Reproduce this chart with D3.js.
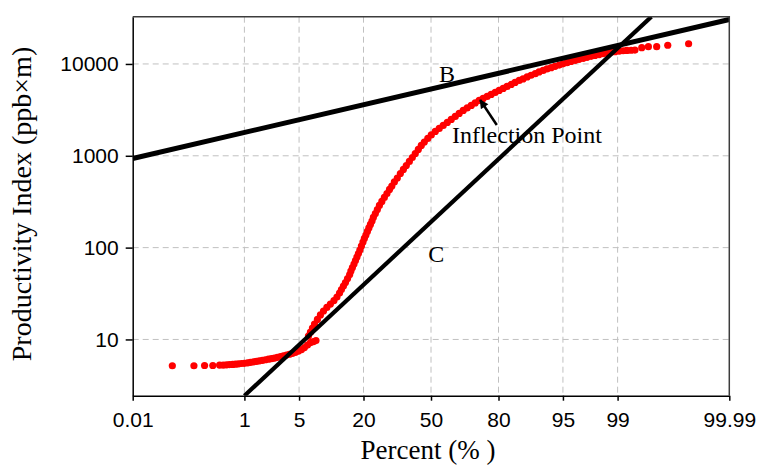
<!DOCTYPE html>
<html lang="en">
<style>
body { margin: 0; background: #fff; }
svg { display: block; }
.grid line { stroke: #c0c0c0; stroke-width: 1; stroke-dasharray: 6,4; }
.axis path, .axis line { stroke: #000; stroke-width: 1.5; }
.axis text { fill: #000; font-family: "Liberation Sans", Arial, sans-serif; font-size: 21px; }
.title { font-family: "Liberation Serif", "Times New Roman", serif; font-size: 28px; fill: #000; }
.note { font-family: "Liberation Serif", "Times New Roman", serif; font-size: 24px; fill: #000; }
.dot { fill: #ff0000; }
.fit { fill: none; stroke: #000; }
</style>
<svg width="759" height="465"></svg>
<script src="https://d3js.org/d3.v7.min.js"></script>
<script>
// tick labels
var xTicks = [0.01, 1, 5, 20, 50, 80, 95, 99, 99.99];
var xTickLabels = ["0.01", "1", "5", "20", "50", "80", "95", "99", "99.99"];
var yTicks = [10, 100, 1000, 10000];

// cumulative percent of each sample
var percent = [
    0.063, 0.156, 0.238, 0.326, 0.42,
    0.48, 0.54, 0.60, 0.67, 0.74, 0.82, 0.91, 1.00, 1.11, 1.22, 1.35, 1.48, 1.62, 1.78, 1.95, 2.14,
    2.34, 2.55, 2.78, 3.03, 3.29, 3.58, 3.88, 4.21, 4.55, 4.92, 5.32, 5.73, 6.18, 6.64, 7.13, 7.58,
    6.33, 6.64, 6.97, 7.32, 7.84, 8.40, 9.01, 9.71, 10.49, 11.32,
    12.05, 12.71, 13.21, 13.75, 14.31, 14.91, 15.53, 15.90, 16.36, 16.85,
    17.32, 17.79, 18.28, 18.76, 19.28, 19.82, 20.31, 20.85, 21.39, 21.93,
    22.51, 23.10, 23.61, 24.39, 25.18, 26.00, 27.00, 28.04, 29.15, 30.25,
    31.27, 32.40, 33.73, 35.13, 36.53, 37.91, 39.37, 40.79, 42.23, 43.72,
    45.19, 46.69, 48.41, 50.15, 52.15, 54.10, 56.07, 58.05, 59.98, 61.90,
    63.74, 65.61, 67.41, 69.22, 70.93, 72.60, 74.22, 75.83, 77.34, 78.84,
    80.23, 81.59, 82.86, 84.13, 85.28, 86.43, 87.44, 88.47, 89.39, 90.32,
    91.10, 91.89, 92.59, 93.29, 93.90, 94.50, 95.01, 95.51, 95.95, 96.39,
    96.75, 97.11, 97.41, 97.70, 97.95, 98.20, 98.40, 98.60, 98.75, 98.91,
    99.05, 99.17, 99.27, 99.37, 99.45,
    99.57, 99.664, 99.755, 99.842, 99.934
];
// productivity index (ppb x m) of each sample
var productivity = [
    5.17, 5.17, 5.2, 5.2, 5.26,
    5.26, 5.29, 5.32, 5.34, 5.38, 5.42, 5.47, 5.50, 5.56, 5.63, 5.70, 5.77, 5.85, 5.93, 6.01, 6.09,
    6.18, 6.27, 6.38, 6.50, 6.63, 6.76, 6.90, 7.06, 7.24, 7.47, 7.76, 8.16, 8.69, 9.25, 9.49, 9.73,
    10.9, 12.0, 13.3, 14.7, 16.5, 18.5, 20.4, 22.3, 24.3, 26.5,
    29.0, 32.0, 35.0, 38.2, 41.7, 46.1, 50.9, 55.6, 60.7, 66.2,
    72.4, 79.0, 86.3, 94.2, 104, 115, 126, 137, 150, 164,
    179, 195, 213, 235, 260, 288, 318, 352, 388, 430,
    469, 519, 573, 641, 710, 784, 867, 958, 1059, 1172,
    1295, 1413, 1544, 1686, 1840, 1984, 2139, 2306, 2486, 2680,
    2889, 3115, 3316, 3531, 3761, 4004, 4209, 4426, 4654, 4893,
    5144, 5409, 5687, 5979, 6287, 6612, 6866, 7218, 7532, 7839,
    8183, 8494, 8822, 9114, 9416, 9728, 10025, 10332, 10647, 10944,
    11223, 11509, 11802, 12100, 12380, 12660, 12916, 13177, 13411, 13614,
    13785, 13925, 14030, 14100, 14170,
    15050, 15430, 15430, 15980, 16600
];

// fitted lines, end points as [percent, value]
var lineB = [[0.01, 934], [99.99, 30500]];
var lineC = [[1, 2.44], [99.70, 32700]];

// inverse normal cdf (Acklam)
function probit(p) {
    var a = [-39.69683028665376, 220.9460984245205, -275.9285104469687, 138.3577518672690, -30.66479806614716, 2.506628277459239];
    var b = [-54.47609879822406, 161.5858368580409, -155.6989798598866, 66.80131188771972, -13.28068155288572];
    var c = [-0.007784894002430293, -0.3223964580411365, -2.400758277161838, -2.549732539343734, 4.374664141464968, 2.938163982698783];
    var d = [0.007784695709041462, 0.3224671290700398, 2.445134137142996, 3.754408661907416];
    var q, r;
    if (p < 0.02425) {
        q = Math.sqrt(-2 * Math.log(p));
        return (((((c[0]*q+c[1])*q+c[2])*q+c[3])*q+c[4])*q+c[5]) / ((((d[0]*q+d[1])*q+d[2])*q+d[3])*q+1);
    }
    if (p > 1 - 0.02425) {
        q = Math.sqrt(-2 * Math.log(1 - p));
        return -(((((c[0]*q+c[1])*q+c[2])*q+c[3])*q+c[4])*q+c[5]) / ((((d[0]*q+d[1])*q+d[2])*q+d[3])*q+1);
    }
    q = p - 0.5; r = q * q;
    return (((((a[0]*r+a[1])*r+a[2])*r+a[3])*r+a[4])*r+a[5])*q / (((((b[0]*r+b[1])*r+b[2])*r+b[3])*r+b[4])*r+1);
}

var svg = d3.select("svg");
var plotL = 132.7, plotR = 729.3, plotT = 16.7, plotB = 395.7;

var zScale = d3.scaleLinear()
    .domain([probit(0.0001), probit(0.9999)])
    .range([plotL, plotR]);
function x(p) { return zScale(probit(p / 100)); }

var y = d3.scaleLog()
    .domain([2.44, 32700])
    .range([plotB, plotT]);

svg.append("clipPath").attr("id", "plot")
    .append("rect")
    .attr("x", plotL).attr("y", plotT)
    .attr("width", plotR - plotL).attr("height", plotB - plotT);

// grid
var grid = svg.append("g").attr("class", "grid");
grid.selectAll(".v")
    .data(xTicks.slice(1, -1))
    .enter().append("line")
    .attr("x1", x).attr("x2", x)
    .attr("y1", plotT).attr("y2", plotB);
grid.selectAll(".h")
    .data(yTicks)
    .enter().append("line")
    .attr("x1", plotL).attr("x2", plotR)
    .attr("y1", y).attr("y2", y);

// samples
svg.append("g")
    .attr("clip-path", "url(#plot)")
    .selectAll("circle")
    .data(percent)
    .enter().append("circle")
    .attr("class", "dot")
    .attr("r", 3.6)
    .attr("cx", function(d) { return x(d); })
    .attr("cy", function(d, i) { return y(productivity[i]); });

// fitted lines B and C
var line = d3.line()
    .x(function(d) { return x(d[0]); })
    .y(function(d) { return y(d[1]); });

var fits = svg.append("g").attr("clip-path", "url(#plot)");
fits.append("path").datum(lineB).attr("class", "fit").attr("stroke-width", 5).attr("d", line);
fits.append("path").datum(lineC).attr("class", "fit").attr("stroke-width", 4.2).attr("d", line);

// axes
svg.append("g")
    .attr("class", "axis")
    .attr("transform", "translate(0," + plotB + ")")
    .call(d3.axisBottom(zScale)
        .tickValues(xTicks.map(function(p) { return probit(p / 100); }))
        .tickFormat(function(d, i) { return xTickLabels[i]; })
        .tickSize(5).tickSizeOuter(0).tickPadding(11));

svg.append("g")
    .attr("class", "axis")
    .attr("transform", "translate(" + plotL + ",0)")
    .call(d3.axisLeft(y)
        .tickValues(yTicks)
        .tickFormat(d3.format("d"))
        .tickSize(7).tickSizeOuter(0).tickPadding(7));

// top and right frame
svg.append("path")
    .attr("d", "M" + plotL + "," + plotT + "H" + plotR + "V" + plotB)
    .attr("fill", "none")
    .attr("stroke", "#3c3c3c")
    .attr("stroke-width", 1.5);

// titles
svg.append("text")
    .attr("class", "title")
    .attr("x", 428).attr("y", 459)
    .attr("font-size", "27px")
    .style("font-size", "27px")
    .attr("text-anchor", "middle")
    .text("Percent (% )");

svg.append("text")
    .attr("class", "title")
    .attr("transform", "translate(31,204) rotate(-90)")
    .attr("text-anchor", "middle")
    .text("Productivity Index (ppb\u00d7m)");

// annotations
svg.append("text").attr("class", "note")
    .attr("x", x(57.9)).attr("y", y(6370))
    .attr("text-anchor", "middle").text("B");

svg.append("text").attr("class", "note")
    .attr("x", x(52.6)).attr("y", y(69.7))
    .attr("text-anchor", "middle").text("C");

svg.append("text").attr("class", "note")
    .attr("x", x(60.3)).attr("y", y(1368))
    .text("Inflection Point");

svg.append("defs").append("marker")
    .attr("id", "head")
    .attr("markerUnits", "userSpaceOnUse")
    .attr("viewBox", "0 0 10 10")
    .attr("refX", 9).attr("refY", 5)
    .attr("markerWidth", 10).attr("markerHeight", 9)
    .attr("orient", "auto")
    .append("path")
    .attr("d", "M0,0L10,5L0,10z")
    .attr("fill", "#000");

svg.append("line")
    .attr("x1", x(79.4)).attr("y1", y(2165))
    .attr("x2", x(73.0)).attr("y2", y(4055))
    .attr("stroke", "#000")
    .attr("stroke-width", 2.5)
    .attr("marker-end", "url(#head)");
</script>
</html>
